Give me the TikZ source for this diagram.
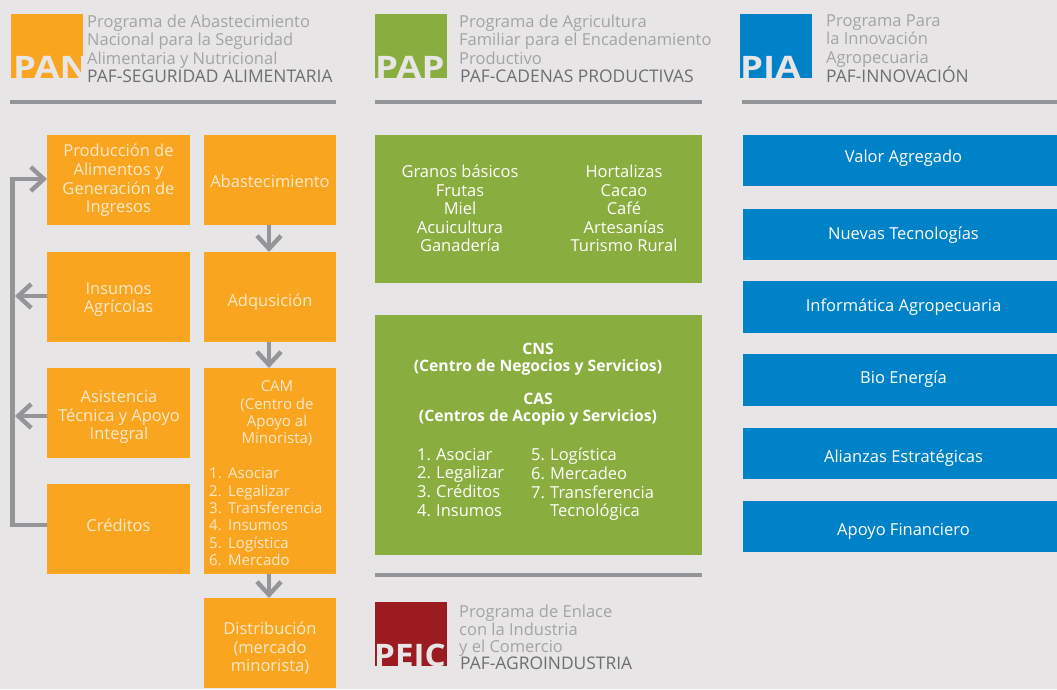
\documentclass[tikz,border=0pt]{standalone}
\usepackage{fontspec}
\setmainfont{Open Sans}
\usetikzlibrary{arrows.meta}
\definecolor{bgGray}{HTML}{E7E5E6}
\definecolor{lineGray}{HTML}{939598}
\definecolor{headGray}{HTML}{A3A4A6}
\definecolor{pafGray}{HTML}{6D6E71}
\definecolor{panOrange}{HTML}{F9A51F}
\definecolor{papGreen}{HTML}{8AAD3F}
\definecolor{piaBlue}{HTML}{0082C8}
\definecolor{peicRed}{HTML}{9B1B20}
\definecolor{panText}{HTML}{FBE9CB}
\tikzset{
    box/.style={anchor=north west,inner sep=0pt,outer sep=0pt},
    logo/.style={anchor=north west,inner sep=0pt,outer sep=0pt,minimum width=72pt,minimum height=64pt},
    logotext/.style={anchor=base west,inner sep=0pt,text=bgGray,font=\fontsize{31}{31}\selectfont\bfseries},
    headtext/.style={anchor=north west,inner sep=0pt,align=left,text=headGray,font=\fontsize{16.5}{18.4}\selectfont},
    paftext/.style={anchor=base west,inner sep=0pt,text=pafGray,font=\fontsize{17.4}{18}\selectfont},
    plain/.style={inner sep=0pt,align=center,text=white,font=\fontsize{16.5}{18.6}\selectfont},
    boxtext/.style={plain,text=panText},
    listtext/.style={plain,text=panText,font=\fontsize{15}{17.4}\selectfont},
    rulebar/.style={line width=4pt,lineGray},
    flow/.style={line width=4.4pt,lineGray,-{Straight Barb[length=13pt,width=24pt,line width=4.4pt]}}
}
\newcommand{\numit}[2]{\makebox[19pt][l]{#1}#2}
\newcommand{\wide}[1]{\scalebox{1.18}[1]{#1}}
\begin{document}
\begin{tikzpicture}[x=1pt,y=-1pt]
    \useasboundingbox[fill=bgGray] (0,0) rectangle (1057,689);

    % logos
    \node[logo,fill=panOrange] (panlogo) at (11,14) {};
    \node[logo,fill=papGreen] (paplogo) at (375,14) {};
    \node[logo,fill=piaBlue] (pialogo) at (740,14) {};
    \node[logo,fill=peicRed] (peiclogo) at (375,602) {};
    \begin{scope}
        \clip (11,14) rectangle (83,78);
        \node[logotext] (pantext) at (13,78) {\wide{PAN}};
    \end{scope}
    \begin{scope}
        \clip (375,14) rectangle (447,78);
        \node[logotext] (paptext) at (375,78) {\wide{PAP}};
    \end{scope}
    \begin{scope}
        \clip (740,14) rectangle (812,78);
        \node[logotext] (piatext) at (740,78) {\wide{PIA}};
    \end{scope}
    \begin{scope}
        \clip (375,602) rectangle (447,666);
        \node[logotext] (peictext) at (374,666) {\scalebox{1.07}[1]{PEIC}};
    \end{scope}

    % headings
    \node[headtext] (panhead) at (87,14.5) {Programa de Abastecimiento\\Nacional para la Seguridad\\Alimentaria y Nutricional};
    \node[paftext] (panpaf) at (87,82) {PAF-SEGURIDAD ALIMENTARIA};
    \node[headtext] (paphead) at (459,14.5) {Programa de Agricultura\\Familiar para el Encadenamiento\\Productivo};
    \node[paftext] (pappaf) at (460,82) {PAF-CADENAS PRODUCTIVAS};
    \node[headtext] (piahead) at (826,14.5) {Programa Para\\la Innovación\\Agropecuaria};
    \node[paftext] (piapaf) at (826,82) {PAF-INNOVACIÓN};
    \node[headtext,font=\fontsize{16.5}{17.6}\selectfont] (peichead) at (459,605) {Programa de Enlace\\con la Industria\\y el Comercio};
    \node[paftext] (peicpaf) at (460,669) {PAF-AGROINDUSTRIA};

    \draw[rulebar] (10,102) -- (336,102);
    \draw[rulebar] (375,102) -- (702,102);
    \draw[rulebar] (742,102) -- (1057,102);
    \draw[rulebar] (375,575) -- (702,575);

    % orange column
    \tikzset{pbox/.style={box,fill=panOrange,minimum width=143pt,minimum height=90pt},
             abox/.style={box,fill=panOrange,minimum width=132pt,minimum height=90pt}}
    \node[pbox] (prod) at (47,135) {};
    \node[pbox] (insu) at (47,252) {};
    \node[pbox] (asis) at (47,368) {};
    \node[pbox] (cred) at (47,484) {};
    \node[abox] (abas) at (204,135) {};
    \node[abox] (adqu) at (204,252) {};
    \node[abox,minimum height=206pt] (cam) at (204,368) {};
    \node[abox] (dist) at (204,598) {};
    \node[boxtext] (prodtext) at (118.5,180.5) {Producción de\\Alimentos y\\Generación de\\Ingresos};
    \node[boxtext] (insutext) at (118.5,299.5) {Insumos\\Agrícolas};
    \node[boxtext] (asistext) at (119,417) {Asistencia\\Técnica y Apoyo\\Integral};
    \node[boxtext] (credtext) at (118.5,525) {Créditos};
    \node[boxtext] (abastext) at (270,181) {Abastecimiento};
    \node[boxtext] (adqutext) at (270,302) {Adqusición};
    \node[boxtext] (disttext) at (270,648) {Distribución\\(mercado\\minorista)};
    \node[listtext] (camtitle) at (277,413.5) {CAM\\(Centro de\\Apoyo al\\Minorista)};
    \node[listtext,anchor=north west,align=left] (camlist) at (209,467.5) {\numit{1.}{Asociar}\\\numit{2.}{Legalizar}\\\numit{3.}{Transferencia}\\\numit{4.}{Insumos}\\\numit{5.}{Logística}\\\numit{6.}{Mercado}};

    \coordinate (busprod) at (12.5,179);
    \coordinate (busins) at (15,296);
    \coordinate (busasis) at (15,416);
    \coordinate (buscred) at (12.5,525);
    \draw[flow] (269,225) -- (269,252);
    \draw[flow] (269,342) -- (269,368);
    \draw[flow] (269,574) -- (269,598);
    \draw[line width=4.4pt,lineGray] (cred.west |- buscred) -- (buscred) -- (busprod) -- ++(5,0);
    \draw[flow] (busprod) -- (prod.west |- busprod);
    \draw[flow] (insu.west |- busins) -- (busins);
    \draw[flow] (asis.west |- busasis) -- (busasis);

    % green column
    \node[box,fill=papGreen,minimum width=327pt,minimum height=148pt] (crops) at (375,135) {};
    \node[box,fill=papGreen,minimum width=327pt,minimum height=240pt] (centros) at (375,315) {};
    \node[plain] (cropsa) at (460,208.5) {Granos básicos\\Frutas\\Miel\\Acuicultura\\Ganadería};
    \node[plain] (cropsb) at (624,208.5) {Hortalizas\\Cacao\\Café\\Artesanías\\Turismo Rural};
    \node[plain,font=\fontsize{15.7}{17.5}\selectfont\bfseries] (cns) at (538,359) {CNS\\(Centro de Negocios y Servicios)};
    \node[plain,font=\fontsize{15.7}{17.5}\selectfont\bfseries] (cas) at (538,409) {CAS\\(Centros de Acopio y Servicios)};
    \node[plain,anchor=north west,align=left] (lista) at (417,448) {\numit{1.}{Asociar}\\\numit{2.}{Legalizar}\\\numit{3.}{Créditos}\\\numit{4.}{Insumos}};
    \node[plain,anchor=north west,align=left] (listb) at (531,448) {\numit{5.}{Logística}\\\numit{6.}{Mercadeo}\\\numit{7.}{Transferencia}\\\numit{}{Tecnológica}};

    % blue column
    \foreach \nm/\ytop/\yhgt/\ytxt/\lab in {valor/135/51/158/Valor Agregado,
            nuevas/209/51/235/Nuevas Tecnologías,
            infor/281/52/307/Informática Agropecuaria,
            bio/354/52/379/Bio Energía,
            alia/428/51/458/Alianzas Estratégicas,
            apoyo/501/51/531/Apoyo Financiero}{
        \node[box,fill=piaBlue,minimum width=314pt,minimum height=\yhgt pt] (\nm) at (743,\ytop) {};
        \node[plain] (\nm text) at (903.5,\ytxt) {\lab};
    }
\end{tikzpicture}
\end{document}
